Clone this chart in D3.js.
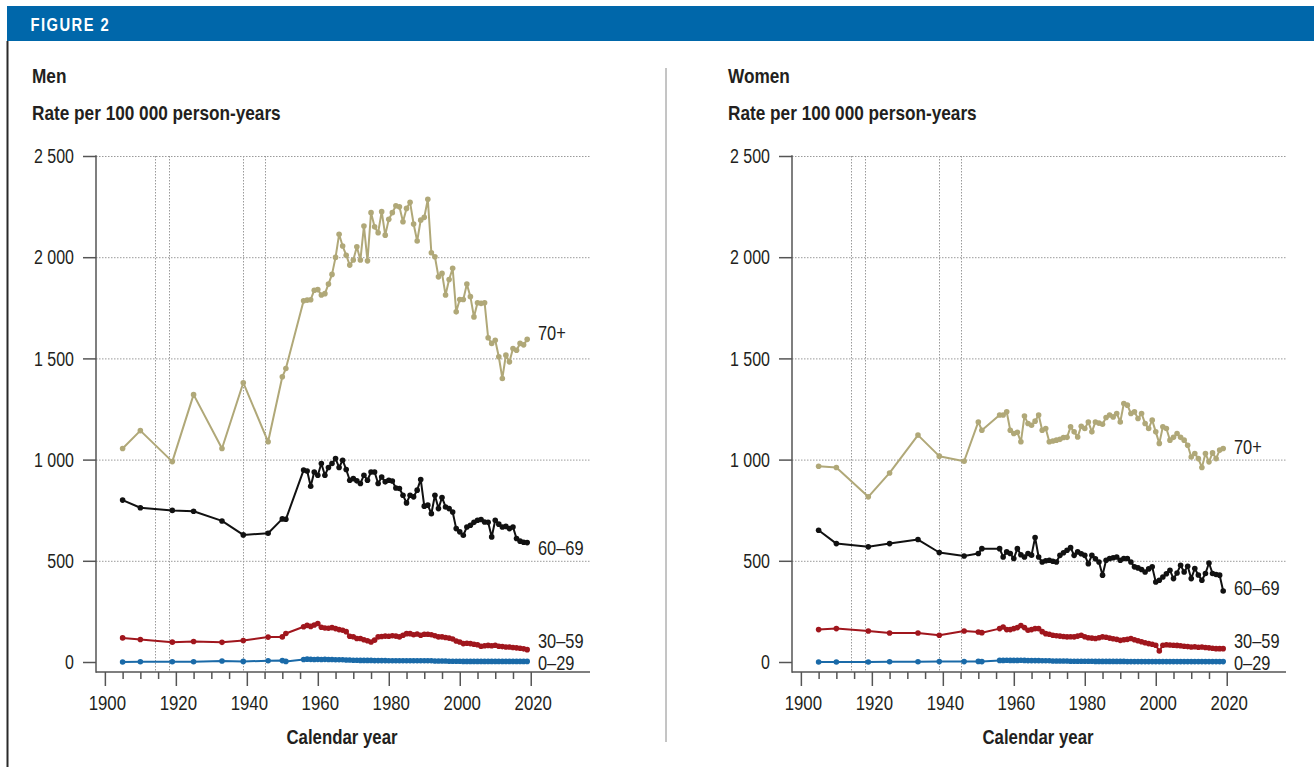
<!DOCTYPE html>
<html><head><meta charset="utf-8">
<script src="https://cdn.jsdelivr.net/npm/d3@7"></script>
<style>html,body{margin:0;padding:0;background:#fff;}svg{display:block;}</style>
</head><body>
<svg id="chart" width="1314" height="767"></svg>
<script>
// ---------------- DATA ----------------
const years = [1905,1910,1919,1925,1933,1939,1946,1950,1951,
 1956,1957,1958,1959,1960,1961,1962,1963,1964,1965,
 1966,1967,1968,1969,1970,1971,1972,1973,1974,1975,
 1976,1977,1978,1979,1980,1981,1982,1983,1984,1985,
 1986,1987,1988,1989,1990,1991,1992,1993,1994,1995,
 1996,1997,1998,1999,2000,2001,2002,2003,2004,2005,
 2006,2007,2008,2009,2010,2011,2012,2013,2014,2015,
 2016,2017,2018,2019];

const ageGroups = ["70+", "60\u201369", "30\u201359", "0\u201329"];

const men70 = [1055,1143,990,1321,1055,1380,1088,1409,1450,
 1785,1788,1790,1837,1840,1813,1820,1867,1915,1999,
 2113,2055,2010,1961,1986,2052,1986,2154,1982,2220,
 2150,2121,2225,2109,2187,2220,2254,2249,2175,2241,
 2271,2164,2080,2183,2197,2286,2022,2002,1903,1920,
 1813,1890,1945,1730,1791,1791,1867,1805,1705,1775,
 1772,1775,1602,1574,1590,1508,1401,1516,1483,1549,
 1540,1574,1567,1594];
const men60 = [800,762,749,745,697,628,636,707,705,
 948,944,868,939,923,981,923,961,981,1005,
 961,997,951,898,906,895,882,923,898,939,
 939,882,914,890,898,894,860,857,824,786,
 824,816,849,902,770,775,733,824,758,813,
 766,758,741,659,643,626,667,676,690,700,
 704,692,690,618,700,681,667,670,659,667,
 610,597,592,590];
const men30 = [119,111,98,101,97,106,123,124,141,
 174,181,176,183,190,172,168,167,170,165,
 160,157,150,127,125,116,116,110,105,99,
 108,124,126,128,127,130,128,124,132,140,
 140,135,138,132,137,137,135,130,124,124,
 121,118,114,104,99,91,93,91,88,85,
 78,80,82,80,83,78,76,74,74,72,
 70,68,65,61];
const men0 = [0,1,1,1,5,3,6,7,3,
 12,14,13,12,13,12,13,12,12,11,
 11,11,10,10,9,9,8,8,8,8,
 7,7,7,7,6,6,6,6,6,6,
 6,6,6,6,6,6,6,5,5,5,
 5,4,4,4,4,3,3,3,3,3,
 3,3,3,3,3,3,3,3,3,3,
 3,3,3,3];

const women70 = [967,961,816,934,1121,1017,992,1186,1145,
 1220,1220,1236,1145,1129,1135,1088,1215,1178,1170,
 1190,1220,1145,1154,1088,1092,1096,1100,1109,1110,
 1162,1137,1112,1165,1154,1186,1137,1186,1180,1175,
 1208,1220,1211,1228,1186,1277,1269,1228,1236,1203,
 1228,1178,1154,1195,1137,1080,1162,1154,1096,1110,
 1129,1110,1096,1071,1013,1030,1005,961,1030,989,
 1033,1005,1047,1055];
const women60 = [651,585,569,585,605,541,524,536,560,
 560,519,544,536,511,560,530,519,536,528,
 615,519,494,500,503,498,494,527,540,552,
 565,527,544,535,527,486,527,510,494,429,
 503,511,515,519,503,511,511,494,470,465,
 457,445,460,470,395,404,420,436,453,412,
 440,478,445,473,412,462,430,404,437,489,
 437,432,429,351];
const women30 = [160,165,153,143,143,132,153,148,145,
 165,173,160,160,165,170,180,170,157,160,
 165,165,150,140,137,132,130,128,126,124,
 125,124,128,132,125,120,118,116,120,124,
 122,118,115,112,107,110,112,116,110,105,
 100,95,91,88,83,54,83,85,84,83,
 82,80,78,76,74,75,73,74,72,70,
 68,66,66,66];
const women0 = [0,0,0,1,1,2,2,3,2,
 8,8,9,8,8,8,9,8,7,7,
 7,7,6,6,6,5,5,5,5,5,
 4,4,4,4,4,4,4,3,3,3,
 3,3,3,3,3,3,2,2,2,2,
 2,2,2,2,2,2,2,2,2,2,
 2,2,2,2,2,2,2,2,2,2,
 2,2,2,2];

// label anchor values (in rate units) for the series names at the right end
const menLabelValues = [1626, 562, 104, -6];
const womenLabelValues = [1063, 368, 104, -6];

const yTicks = [0, 500, 1000, 1500, 2000, 2500];
const xMajorTicks = [1900, 1920, 1940, 1960, 1980, 2000, 2020];
const warYears = [1914, 1918, 1939, 1945];
const panelTitles = ["Men", "Women"];

// ---------------- STYLE ----------------
const colors = ["#b0a878", "#111111", "#a0161d", "#1a6aa8"];
const textColor = "#231f20";

function hasFont(name){
  const c = document.createElement("canvas").getContext("2d");
  const s = "abcdefghijklmnopqrstuvwxyz MW 0123456789";
  c.font = "40px monospace"; const a = c.measureText(s).width;
  c.font = `40px "${name}", monospace`; const b = c.measureText(s).width;
  return Math.abs(a-b) > 0.5;
}
const NARROW = hasFont("Liberation Sans Narrow");
const FAM = NARROW ? "'Liberation Sans Narrow', 'Arial Narrow', sans-serif" : "'Liberation Sans', Arial, sans-serif";
const SX = NARROW ? 1 : 0.82;

const svg = d3.select("#chart");

function txt(g, x, y, s, o){
  o = o || {};
  return g.append("text")
    .attr("transform", `translate(${x},${y}) scale(${SX},1)`)
    .attr("text-anchor", o.anchor || "start")
    .attr("fill", o.fill || textColor)
    .style("font-family", FAM)
    .style("font-size", (o.size || 18) + "px")
    .style("font-weight", o.weight || "normal")
    .text(s);
}

// header
svg.append("rect").attr("x", 7).attr("y", 6).attr("width", 1307).attr("height", 35).attr("fill", "#0067aa");
txt(svg, 30.5, 31, "FIGURE 2", {size: 18, weight: "bold", fill: "#ffffff"}).attr("letter-spacing", "1.8px");
svg.append("line").attr("x1", 7.5).attr("x2", 7.5).attr("y1", 41).attr("y2", 767).attr("stroke", "#2a2a2a").attr("stroke-width", 2);
// divider
svg.append("line").attr("x1", 666).attr("x2", 666).attr("y1", 68).attr("y2", 742).attr("stroke", "#8a8a8a").attr("stroke-width", 1);

const spaceFmt = v => d3.format(",")(v).replace(/,/g, " ");

function panel(offsetX, title, series, labelValues){
  const g = svg.append("g").attr("transform", `translate(${offsetX},0)`);
  const x0 = 96, x1 = 590, yTop = 156, yZero = 662, axisY = 672;
  const x = d3.scaleLinear().domain([1897.5, 2036.7]).range([x0, x1]);
  const y = d3.scaleLinear().domain([0, 2500]).range([yZero, yTop]);

  txt(g, 32, 83, title, {size: 21, weight: "bold"});
  txt(g, 32, 120, "Rate per 100 000 person-years", {size: 21, weight: "bold"});

  // grid
  g.append("g").selectAll("line").data(yTicks.filter(d => d > 0)).join("line")
    .attr("x1", x0).attr("x2", x1).attr("y1", d => y(d) + 0.5).attr("y2", d => y(d) + 0.5)
    .attr("stroke", "#9a9a9a").attr("stroke-width", 1).attr("stroke-dasharray", "1.5,1.5");
  g.append("g").selectAll("line").data(warYears).join("line")
    .attr("x1", d => Math.round(x(d)) + 0.5).attr("x2", d => Math.round(x(d)) + 0.5)
    .attr("y1", yTop).attr("y2", axisY)
    .attr("stroke", "#9a9a9a").attr("stroke-width", 1).attr("stroke-dasharray", "1.5,1.5");

  // y axis
  const ya = g.append("g").attr("transform", `translate(${x0},0)`)
    .call(d3.axisLeft(y).tickValues(yTicks).tickSize(13).tickPadding(9).tickFormat(spaceFmt).tickSizeOuter(0));
  ya.select(".domain").remove();
  ya.selectAll(".tick line").attr("stroke", "#555").attr("stroke-width", 1.5);
  ya.selectAll(".tick text").attr("fill", textColor).style("font-family", FAM).style("font-size", "19.5px")
    .attr("transform", `scale(${SX},1)`).attr("x", -22 / SX).attr("dy", "0.34em");
  g.append("line").attr("x1", x0).attr("x2", x0).attr("y1", yTop - 0.75).attr("y2", axisY + 0.75)
    .attr("stroke", "#555").attr("stroke-width", 1.5);

  // x axis
  const minor = d3.range(1900, 2021, 5).filter(v => !xMajorTicks.includes(v));
  const xm = g.append("g").attr("transform", `translate(0,${axisY})`)
    .call(d3.axisBottom(x).tickValues(minor).tickSize(7).tickFormat("").tickSizeOuter(0));
  xm.select(".domain").remove();
  xm.selectAll(".tick line").attr("stroke", "#555").attr("stroke-width", 1.5);
  const xa = g.append("g").attr("transform", `translate(0,${axisY})`)
    .call(d3.axisBottom(x).tickValues(xMajorTicks).tickSize(14).tickPadding(8).tickFormat(d3.format("d")).tickSizeOuter(0));
  xa.select(".domain").remove();
  xa.selectAll(".tick line").attr("stroke", "#555").attr("stroke-width", 1.5);
  xa.selectAll(".tick text").attr("fill", textColor).style("font-family", FAM).style("font-size", "20.5px")
    .attr("transform", `translate(2,0) scale(${SX},1)`).attr("y", 23).attr("dy", "0.71em");
  g.append("line").attr("x1", x0).attr("x2", x1).attr("y1", axisY).attr("y2", axisY)
    .attr("stroke", "#555").attr("stroke-width", 1.5);

  txt(g, 342, 744, "Calendar year", {size: 20.5, weight: "bold", anchor: "middle"});

  // series
  const line = d3.line().x((d, i) => x(years[i])).y(d => y(d));
  const order = [3, 2, 1, 0];
  order.forEach(k => {
    const vals = series[k];
    g.append("path").datum(vals).attr("d", line).attr("fill", "none")
      .attr("stroke", colors[k]).attr("stroke-width", 2).attr("stroke-linejoin", "round");
    g.append("g").selectAll("circle").data(vals).join("circle")
      .attr("cx", (d, i) => x(years[i])).attr("cy", d => y(d)).attr("r", 2.8).attr("fill", colors[k]);
  });
  // series labels
  ageGroups.forEach((name, k) => {
    txt(g, 538, y(labelValues[k]) + 7, name, {size: 20});
  });
}

panel(0, panelTitles[0], [men70, men60, men30, men0], menLabelValues);
panel(696, panelTitles[1], [women70, women60, women30, women0], womenLabelValues);
</script>
</body></html>
